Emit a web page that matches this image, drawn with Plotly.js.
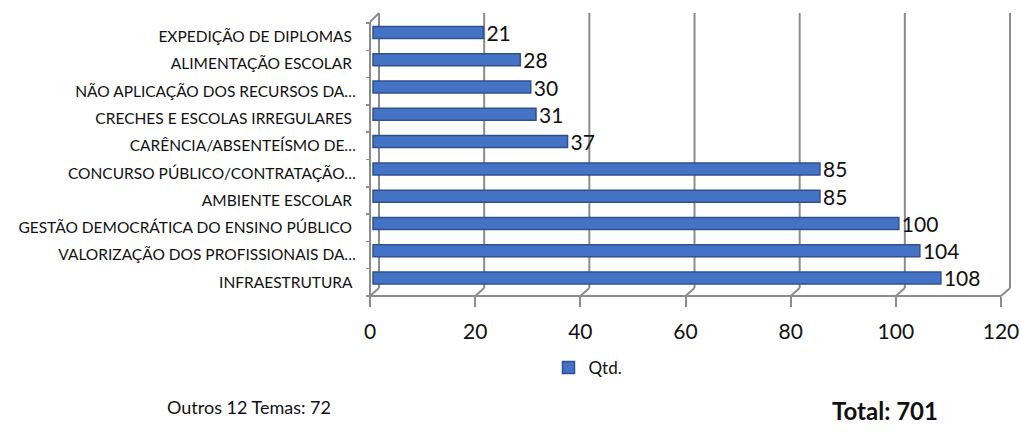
<!DOCTYPE html>
<html>
<head>
<meta charset="utf-8">
<script src="https://cdn.plot.ly/plotly-3.0.1.min.js"></script>
<style>
  html, body { margin: 0; padding: 0; background: #fff; }
  #chart { width: 1020px; height: 433px; }
</style>
</head>
<body>
<div id="chart"></div>
<script>
// Themes, listed from the top bar to the bottom bar
const categories = [
  'EXPEDIÇÃO DE DIPLOMAS\u00a0',
  'ALIMENTAÇÃO ESCOLAR\u00a0',
  'NÃO APLICAÇÃO DOS RECURSOS DA…',
  'CRECHES E ESCOLAS IRREGULARES\u00a0',
  'CARÊNCIA/ABSENTEÍSMO DE…',
  'CONCURSO PÚBLICO/CONTRATAÇÃO…',
  'AMBIENTE ESCOLAR\u00a0',
  'GESTÃO DEMOCRÁTICA DO ENSINO PÚBLICO\u00a0',
  'VALORIZAÇÃO DOS PROFISSIONAIS DA…',
  'INFRAESTRUTURA\u00a0'
];
const qtd = [21, 28, 30, 31, 37, 85, 85, 100, 104, 108];
const seriesName = 'Qtd.';
const xTicks = [0, 20, 40, 60, 80, 100, 120];
const otherThemesText = 'Outros 12 Temas: 72';
const totalText = '<b>Total: 701</b>';

// ---- geometry of the pseudo-3D frame (pixels) ----
const W = 1020, H = 433;
const PLOT_L = 366, PLOT_R = 1014, PLOT_T = 13, PLOT_B = 296;
const FRONT_L = 370, FRONT_R = 1001;          // front edge: 0 .. xMax
const DEPTH_X = 9, DEPTH_Y = 8;               // offset of the back wall
const BAR_DX = 3;                             // bars sit a little behind the front edge
const xMax = xTicks[xTicks.length - 1];
const ppu = (FRONT_R - FRONT_L) / xMax;
const xRange = [-(FRONT_L - PLOT_L) / ppu, (PLOT_R - FRONT_L) / ppu];
const py = p => (PLOT_B - p) / (PLOT_B - PLOT_T);   // pixel row -> paper y
const px = p => (p - PLOT_L) / (PLOT_R - PLOT_L);   // pixel col -> paper x

const FONT = 'Lato, "Open Sans", sans-serif';
const TXT = '#111111';
const GRID = '#8c8c8c';
const GRID_W = 2;

const idx = categories.map((_, i) => i);
const bounds = categories.concat(['']).map((_, i) => i - 0.5);

// back-wall grid lines, floor diagonals, front frame
const shapes = [];
xTicks.forEach(v => {
  shapes.push({
    type: 'line', xref: 'x', yref: 'paper', xsizemode: 'pixel', xanchor: v,
    x0: DEPTH_X, x1: DEPTH_X, y0: py(PLOT_B - DEPTH_Y), y1: 1,
    line: {color: GRID, width: GRID_W}, layer: 'below'
  });
  shapes.push({
    type: 'line', xref: 'x', yref: 'paper', xsizemode: 'pixel', xanchor: v,
    x0: 0, x1: DEPTH_X, y0: 0, y1: py(PLOT_B - DEPTH_Y),
    line: {color: GRID, width: GRID_W}, layer: 'below'
  });
});
// front floor edge
shapes.push({
  type: 'line', xref: 'x', yref: 'paper', x0: 0, x1: xMax, y0: 0, y1: 0,
  line: {color: GRID, width: GRID_W}, layer: 'below'
});
// front edge of the side wall
shapes.push({
  type: 'line', xref: 'x', yref: 'paper', xsizemode: 'pixel', xanchor: 0,
  x0: 0, x1: 0, y0: 0, y1: py(PLOT_T + DEPTH_Y + 1),
  line: {color: GRID, width: GRID_W}, layer: 'below'
});
// top edge of the side wall
shapes.push({
  type: 'line', xref: 'x', yref: 'paper', xsizemode: 'pixel', xanchor: 0,
  x0: 0, x1: DEPTH_X, y0: py(PLOT_T + DEPTH_Y + 1), y1: 1,
  line: {color: GRID, width: GRID_W}, layer: 'below'
});

const bars = {
  type: 'bar',
  orientation: 'h',
  name: seriesName,
  x: qtd,
  y: categories,
  xaxis: 'x2',
  yaxis: 'y2',
  width: 0.44,
  marker: {color: '#4472C4', line: {color: '#2F528F', width: 1.5}},
  text: qtd.map(String),
  textposition: 'outside',
  constraintext: 'none',
  textfont: {family: FONT, size: 21, color: TXT},
  cliponaxis: false,
  hoverinfo: 'x+y'
};

// empty helper so the front axes (labels and ticks) get a subplot
const frontAxes = {
  type: 'scatter', mode: 'markers', x: [], y: [], xaxis: 'x', yaxis: 'y',
  showlegend: false, hoverinfo: 'skip'
};

const layout = {
  width: W, height: H,
  margin: {l: PLOT_L, r: W - PLOT_R, t: PLOT_T, b: H - PLOT_B, pad: 0},
  paper_bgcolor: '#ffffff',
  plot_bgcolor: 'rgba(0,0,0,0)',
  font: {family: FONT, color: TXT},
  showlegend: true,
  legend: {
    orientation: 'h', x: px(588), y: py(368), xanchor: 'center', yanchor: 'middle',
    font: {family: FONT, size: 17, color: TXT}, bgcolor: 'rgba(0,0,0,0)'
  },
  xaxis: {
    range: xRange, anchor: 'y', domain: [0, 1],
    tickmode: 'array', tickvals: xTicks,
    ticks: 'outside', ticklen: 10, tickwidth: GRID_W, tickcolor: GRID,
    ticklabelstandoff: 7,
    tickfont: {family: FONT, size: 21, color: TXT},
    showgrid: false, zeroline: false, showline: false, fixedrange: true
  },
  // category labels, on the front edge of the side wall
  yaxis: {
    range: [categories.length - 0.5, -0.5],
    domain: [0, py(23)],
    anchor: 'free', position: px(FRONT_L),
    tickmode: 'array', tickvals: idx, ticktext: categories,
    ticks: '', ticklabelstandoff: 14,
    tickfont: {family: FONT, size: 15.5, color: TXT},
    minor: {tickmode: 'array', tickvals: bounds, ticks: 'outside', ticklen: 4,
            tickwidth: 1.5, tickcolor: GRID, showgrid: false},
    showgrid: false, zeroline: false, showline: false, fixedrange: true
  },
  // bars sit between the front edge and the back wall
  xaxis2: {
    range: [xRange[0], xRange[1] - BAR_DX / ppu],
    domain: [px(PLOT_L + BAR_DX), 1], anchor: 'y2',
    visible: false, fixedrange: true
  },
  yaxis2: {
    type: 'category', categoryorder: 'array', categoryarray: categories,
    range: [categories.length - 0.5, -0.5],
    domain: [py(291.6), py(18.9)],
    anchor: 'x2',
    visible: false, fixedrange: true
  },
  shapes: shapes,
  annotations: [
    {text: otherThemesText, xref: 'paper', yref: 'paper', x: px(165), y: py(407),
     xanchor: 'left', yanchor: 'middle', showarrow: false,
     font: {family: FONT, size: 18, color: TXT}},
    {text: totalText, xref: 'paper', yref: 'paper', x: px(830), y: py(410),
     xanchor: 'left', yanchor: 'middle', showarrow: false,
     font: {family: FONT, size: 24, color: TXT}}
  ]
};

Plotly.newPlot('chart', [frontAxes, bars], layout, {displayModeBar: false, staticPlot: true});
</script>
</body>
</html>
